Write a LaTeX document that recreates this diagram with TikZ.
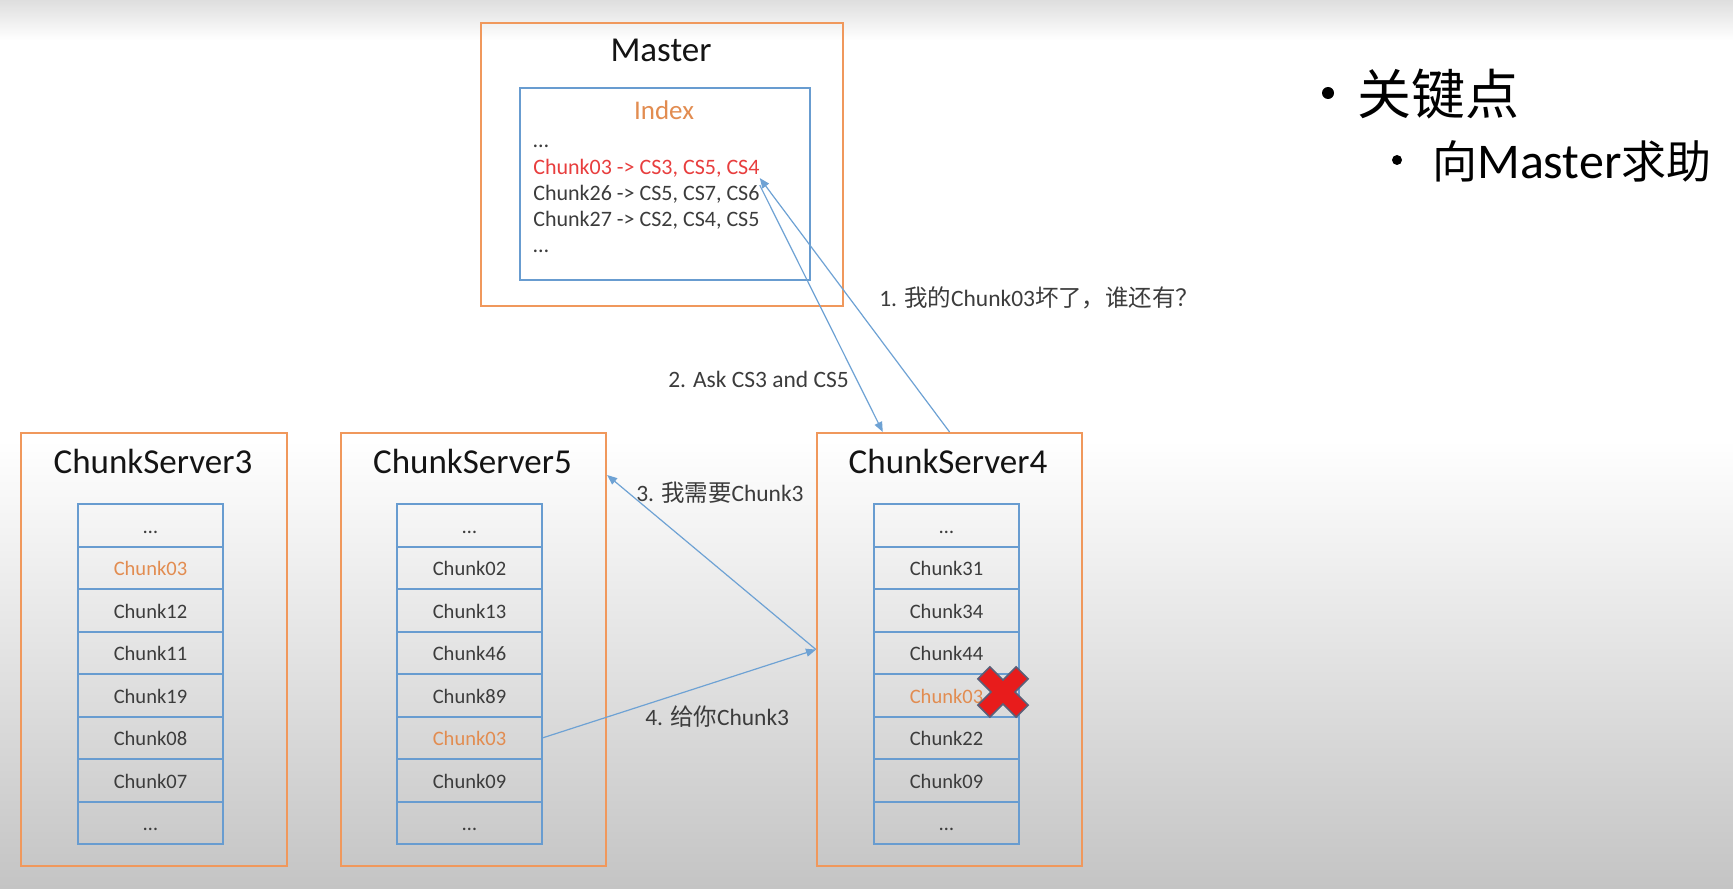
\documentclass[tikz,border=0pt]{standalone}
\usepackage{fontspec}
\setmainfont{Carlito}
\newfontfamily\cjk{Noto Sans CJK SC}
\usetikzlibrary{arrows.meta,calc}
\definecolor{oBorder}{RGB}{240,152,92}
\definecolor{bBorder}{RGB}{104,156,208}
\definecolor{aLine}{RGB}{110,162,212}
\definecolor{oText}{RGB}{226,140,80}
\definecolor{rText}{RGB}{232,62,62}
\definecolor{dText}{RGB}{60,60,60}
\definecolor{tText}{RGB}{20,20,20}
\definecolor{bgTop}{RGB}{222,222,222}
\definecolor{bgBot}{RGB}{196,196,196}
\definecolor{xRed}{RGB}{232,28,28}
\definecolor{xEdge}{RGB}{90,96,120}
\newcommand{\fs}[1]{\fontsize{#1pt}{#1pt}\selectfont}
\begin{document}
\begin{tikzpicture}[x=0.75pt,y=-0.75pt,
  obox/.style={draw=oBorder, line width=1.6pt, inner sep=0, anchor=north west},
  ibox/.style={draw=bBorder, line width=1.5pt, inner sep=0, anchor=north west},
  title/.style={anchor=base, inner sep=0, text=tText, font=\fs{26.25}},
  cell/.style={draw=bBorder, line width=1.5pt, minimum width=108.75pt, minimum height=31.875pt, inner sep=0, text height=12pt, text depth=0pt, font=\fs{15.4}},
  idx/.style={anchor=base west, inner sep=0, font=\fs{16.5}, text=dText},
  lbl/.style={anchor=west, inner sep=0, font=\fs{17.6}, text=dText},
  conn/.style={draw=aLine, line width=0.9pt, -{Triangle[length=7.5pt,width=6pt]}},
  bul/.style={circle, fill=black, inner sep=0}
]
\useasboundingbox (0,0) rectangle (1733,888);
% background
\shade[top color=bgTop, bottom color=white] (0,0) rectangle (1733,40);
\fill[white] (0,40) rectangle (1733,440);
\shade[top color=white, bottom color=bgBot] (0,440) rectangle (1733,888);

% Master
\node[obox, minimum width=271.5pt, minimum height=212.25pt] (master) at (480,22) {};
\node[title] (mt) at (661,62) {Master};
\node[ibox, minimum width=217.5pt, minimum height=144pt] (index) at (519,87) {};
\node[anchor=base, inner sep=0, font=\fs{20.25}, text=oText] (ix) at (664,120) {Index};
\node[idx] (l0) at (533,147) {…};
\node[idx, text=rText] (l1) at (533,175) {Chunk03 -> CS3, CS5, CS4};
\node[idx] (l2) at (533,200.7) {Chunk26 -> CS5, CS7, CS6};
\node[idx] (l3) at (533,226.7) {Chunk27 -> CS2, CS4, CS5};
\node[idx] (l4) at (533,252.7) {…};

% Chunk servers
\node[obox, minimum width=199.5pt, minimum height=324.75pt] (cs3) at (20,432) {};
\node[obox, minimum width=198.75pt, minimum height=324.75pt] (cs5) at (340,432) {};
\node[obox, minimum width=198.75pt, minimum height=324.75pt] (cs4) at (816,432) {};
\node[title] (t3) at (153,473) {ChunkServer3};
\node[title] (t5) at (472.5,473) {ChunkServer5};
\node[title] (t4) at (948,473) {ChunkServer4};

\foreach \t/\c [count=\i from 0] in {…/dText, Chunk03/oText, Chunk12/dText, Chunk11/dText, Chunk19/dText, Chunk08/dText, Chunk07/dText, …/dText}
  \node[cell, text=\c] (cs3c\i) at (150.5, 525.25+42.5*\i) {\t};
\foreach \t/\c [count=\i from 0] in {…/dText, Chunk02/dText, Chunk13/dText, Chunk46/dText, Chunk89/dText, Chunk03/oText, Chunk09/dText, …/dText}
  \node[cell, text=\c] (cs5c\i) at (469.5, 525.25+42.5*\i) {\t};
\foreach \t/\c [count=\i from 0] in {…/dText, Chunk31/dText, Chunk34/dText, Chunk44/dText, Chunk03/oText, Chunk22/dText, Chunk09/dText, …/dText}
  \node[cell, text=\c] (cs4c\i) at (946.5, 525.25+42.5*\i) {\t};

% red cross
\begin{scope}[shift={(1003,692)}, rotate=45]
\filldraw[fill=xRed, draw=xEdge, line width=1.2pt] (-8.5,-27) -- (8.5,-27) -- (8.5,-8.5) -- (27,-8.5) -- (27,8.5) -- (8.5,8.5) -- (8.5,27) -- (-8.5,27) -- (-8.5,8.5) -- (-27,8.5) -- (-27,-8.5) -- (-8.5,-8.5) -- cycle;
\end{scope}

% connectors
\coordinate (cs5in) at ($(cs5.north east)+(0,43)$);
\coordinate (cs4top) at ($(cs4.north west)!0.25!(cs4.north east)$);
\draw[conn] (cs4.north) -- (l1.south east);
\draw[conn] (l2.north east) -- (cs4top);
\draw[conn] (cs4.west) -- (cs5in);
\draw[conn] (cs5c5.east) -- (cs4.west);

% labels
\node[lbl] (a1) at (879,298) {1. {\cjk 我的}Chunk03{\cjk 坏了，谁还有？}};
\node[lbl] (a2) at (668,379) {2. Ask CS3 and CS5};
\node[lbl] (a3) at (636,493) {3. {\cjk 我需要}Chunk3};
\node[lbl] (a4) at (645,717) {4. {\cjk 给你}Chunk3};

% key points
\node[bul, minimum size=9pt] (b1) at (1328,93) {};
\node[anchor=west, inner sep=0, font=\cjk\fs{40.5}, text=black] (k1) at (1357,94) {关键点};
\node[bul, minimum size=7.5pt] (b2) at (1397,160) {};
\node[anchor=base west, inner sep=0, font=\fs{37.5}, text=black] (k2) at (1432,178) {{\cjk\fs{33.75}向}Master{\cjk\fs{33.75}求助}};
\end{tikzpicture}
\end{document}
